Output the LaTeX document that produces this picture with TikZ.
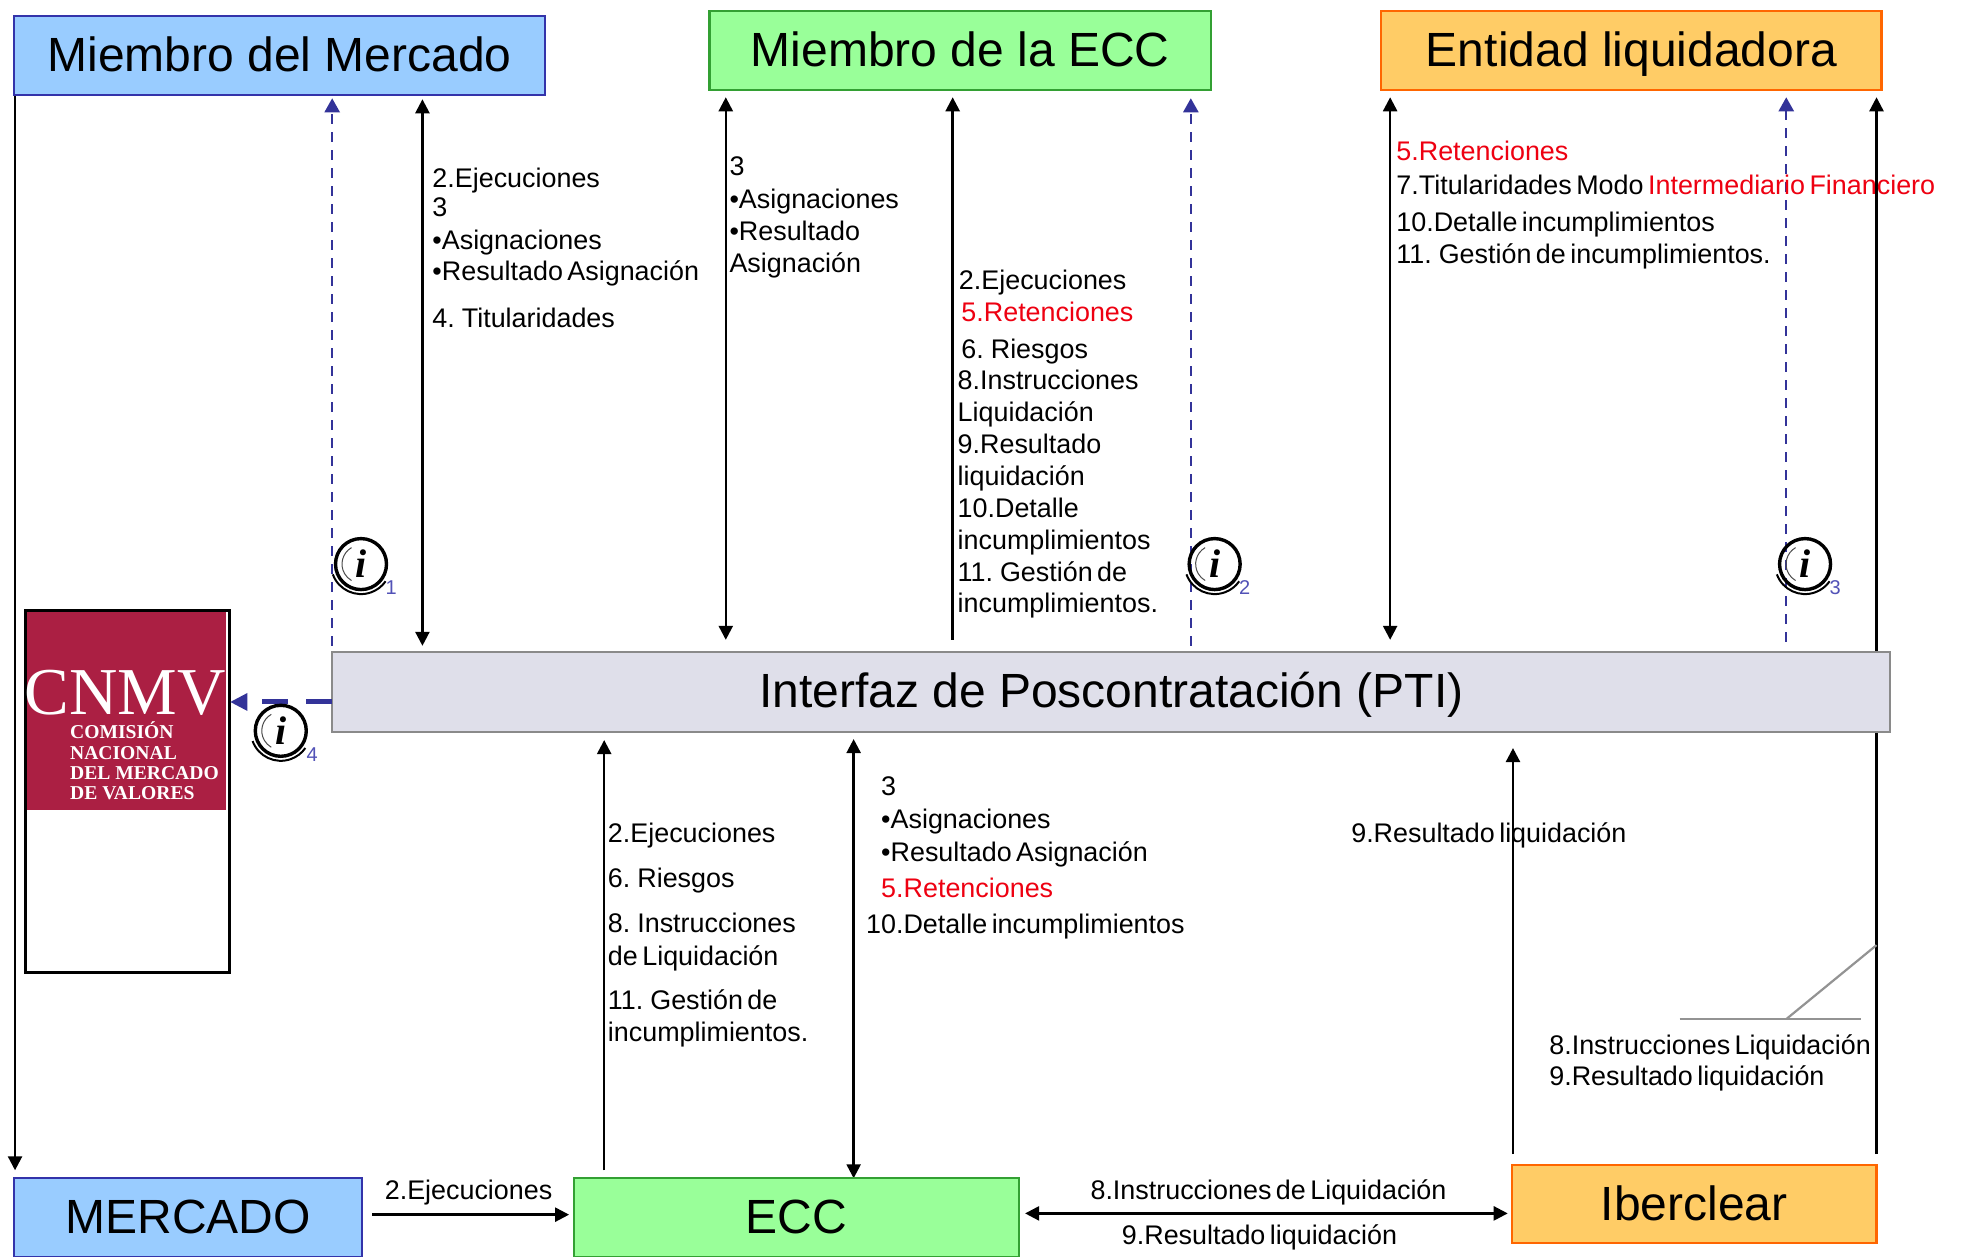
\documentclass[tikz,border=0pt]{standalone}
\usepackage{fontspec}
\setmainfont{Liberation Sans}
\newfontfamily\lblfont[WordSpace=0.6]{Liberation Sans}
\newfontfamily\logofont{Liberation Serif}
\usetikzlibrary{arrows.meta,backgrounds,calc}
\definecolor{mblue}{HTML}{99CCFF}
\definecolor{mgreen}{HTML}{99FF99}
\definecolor{morange}{HTML}{FFCC66}
\definecolor{bblue}{HTML}{3333AA}
\definecolor{bgreen}{HTML}{33A033}
\definecolor{borange}{HTML}{FF6600}
\definecolor{ptifill}{HTML}{DFDFEA}
\definecolor{ptiline}{HTML}{8A8A8A}
\definecolor{cnmvred}{HTML}{AB1F43}
\definecolor{txtred}{HTML}{EE0011}
\definecolor{dash}{HTML}{333399}
\tikzset{
  x=1.2535pt,y=-1.2535pt,
  box/.style={draw,line width=2.2pt,inner sep=0pt,outer sep=0pt,text=black,text height=32pt,text depth=0pt,font=\fontsize{48}{48}\selectfont},
  bluebox/.style={box,fill=mblue,draw=bblue},
  greenbox/.style={box,fill=mgreen,draw=bgreen},
  orangebox/.style={box,fill=morange,draw=borange},
  ptibox/.style={box,fill=ptifill,draw=ptiline},
  cnmvbox/.style={draw=black,line width=3pt,fill=white,inner sep=0pt,outer sep=0pt},
  logobox/.style={fill=cnmvred,inner sep=0pt,outer sep=0pt},
  lbl/.style={anchor=base west,inner sep=0pt,outer sep=0pt,font=\lblfont\fontsize{26.9}{27}\selectfont},
  redlbl/.style={lbl,text=txtred},
  logobig/.style={anchor=center,inner sep=0pt,text=white,font=\logofont\fontsize{67}{67}\selectfont},
  logosmall/.style={anchor=base west,inner sep=0pt,text=white,font=\logofont\bfseries\fontsize{19.6}{20}\selectfont},
  arrow/.style={line width=2.4pt,draw=black,-{Triangle[length=14pt,width=14pt]}},
  twoway/.style={line width=2.4pt,draw=black,{Triangle[length=14pt,width=14pt]}-{Triangle[length=14pt,width=14pt]}},
  bluedash/.style={line width=2.4pt,draw=dash,dash pattern=on 10pt off 8pt,-{Triangle[length=14pt,width=15pt,fill=dash]}},
  thickdash/.style={line width=5pt,draw=dash,dash pattern=on 26pt off 18pt},
  grayline/.style={line width=2.2pt,draw=gray!85},
  infoc/.style={circle,draw=black,line width=3.4pt,inner sep=0pt,outer sep=0pt,minimum size=51pt,text=black,font=\logofont\bfseries\itshape\fontsize{40}{40}\selectfont},
  infon/.style={anchor=center,inner sep=0pt,text=bblue!85,font=\fontsize{20}{20}\selectfont},
}
\newcommand{\boxn}[7]{%
  \pgfmathsetlengthmacro\bw{(#5-#3)*1.2535pt}%
  \pgfmathsetlengthmacro\bh{(#6-#4)*1.2535pt}%
  \node[#2,minimum width=\bw,minimum height=\bh] (#1) at ({(#3+#5)/2},{(#4+#6)/2}) {#7};}
\newcommand{\infoicon}[5]{%
  \node[infoc] (#1) at (#2,#3) {i};
  \draw[black,line width=2pt] ($(#1.center)+(200:30pt)$) arc[start angle=200,end angle=325,radius=30pt];
  \draw[black!70,line width=1pt] ($(#1.center)+(120:19pt)$) arc[start angle=120,end angle=240,radius=19pt];
  \node[infon] (#1n) at (#4) {#5};}
\begin{document}
\begin{tikzpicture}
\useasboundingbox (0,0) rectangle (1567.6,1002);
\clip (0,0) rectangle (1567.6,1002);
% boxes
\boxn{mm}{bluebox}{11}{13}{435}{76}{Miembro del Mercado}
\boxn{me}{greenbox}{566}{9}{966}{72}{Miembro de la ECC}
\boxn{el}{orangebox}{1102}{9}{1501}{72}{Entidad liquidadora}
\boxn{pti}{ptibox}{265}{520}{1508}{584}{Interfaz de Poscontratación (PTI)}
\boxn{mk}{bluebox}{11}{940}{289}{1003}{MERCADO}
\boxn{ecc}{greenbox}{458}{940}{813}{1003}{ECC}
\boxn{ib}{orangebox}{1206}{929.5}{1497}{991.5}{Iberclear}
\boxn{cn}{cnmvbox}{20}{487}{183}{776}{}
\boxn{logo}{logobox}{21.5}{488.5}{180.5}{646}{}
% logo text
\node[logobig] (lg0) at (100,553) {CNMV};
\node[logosmall] (lg1) at (55.8,589) {COMISIÓN};
\node[logosmall] (lg2) at (55.8,606) {NACIONAL};
\node[logosmall] (lg3) at (55.8,622) {DEL MERCADO};
\node[logosmall] (lg4) at (55.8,638) {DE VALORES};
% x positions
\coordinate (xa) at (265,0);
\coordinate (xb) at (337,0);
\coordinate (xc) at (579,0);
\coordinate (xd) at (760,0);
\coordinate (xe) at (950,0);
\coordinate (xf) at (1109,0);
\coordinate (xg) at (1425,0);
\coordinate (xh) at (1497,0);
\coordinate (xi) at (12,0);
\coordinate (xj) at (482,0);
\coordinate (xk) at (681,0);
\coordinate (xl) at (1207,0);
\coordinate (ya) at (0,560);
\coordinate (yb) at (0,969);
\coordinate (yc) at (0,968);
\coordinate (ga) at (1340,813);
\coordinate (gb) at (1485,813);
\coordinate (gc) at (1425,813);
\coordinate (gd) at (1497,754);
\begin{scope}[on background layer]
\fill[white] (0,0) rectangle (1567.6,1002);
\draw[bluedash,shorten <=6pt,shorten >=3pt] (pti.north -| xa) -- (mm.south -| xa);
\draw[twoway,shorten <=6pt,shorten >=4pt] (pti.north -| xb) -- (mm.south -| xb);
\draw[twoway,shorten <=12pt,shorten >=7pt] (pti.north -| xc) -- (me.south -| xc);
\draw[arrow,shorten <=12pt,shorten >=7pt] (pti.north -| xd) -- (me.south -| xd);
\draw[bluedash,shorten <=6pt,shorten >=8pt] (pti.north -| xe) -- (me.south -| xe);
\draw[twoway,shorten <=12pt,shorten >=7pt] (pti.north -| xf) -- (el.south -| xf);
\draw[bluedash,shorten <=10pt,shorten >=7pt] (pti.north -| xg) -- (el.south -| xg);
\draw[arrow,shorten <=11pt,shorten >=7pt] (ib.north -| xh) -- (el.south -| xh);
\draw[arrow,shorten >=8pt] (mm.south -| xi) -- (mk.north -| xi);
\draw[arrow,shorten <=8pt,shorten >=8pt] (ecc.north -| xj) -- (pti.south -| xj);
\draw[twoway,shorten <=0pt,shorten >=7pt] (ecc.north -| xk) -- (pti.south -| xk);
\draw[arrow,shorten <=11pt,shorten >=16pt] (ib.north -| xl) -- (pti.south -| xl);
\end{scope}
\draw[thickdash,shorten >=20pt] (pti.west |- ya) -- (cn.east |- ya);
\path[fill=dash] (cn.east |- ya) ++(1pt,0) -- ++(17pt,-9pt) -- ++(0,18pt) -- cycle;
\draw[arrow,shorten <=10pt,shorten >=5pt] (mk.east |- yb) -- (ecc.west |- yb);
\draw[twoway,shorten <=6pt,shorten >=4pt] (ecc.east |- yc) -- (ib.west |- yc);
\draw[grayline] (ga) -- (gb);
\draw[grayline] (gc) -- (gd);
% labels
\node[lbl] (a1) at (345,149.7) {2.Ejecuciones};
\node[lbl] (a2) at (345,173) {3};
\node[lbl] (a3) at (345,198.7) {•Asignaciones};
\node[lbl] (a4) at (345,224) {•Resultado Asignación};
\node[lbl] (a5) at (345,261) {4. Titularidades};
\node[lbl] (b1) at (582,140) {3};
\node[lbl] (b2) at (582,166) {•Asignaciones};
\node[lbl] (b3) at (582,191.7) {•Resultado};
\node[lbl] (b4) at (582,217) {Asignación};
\node[lbl] (c1) at (765,230.7) {2.Ejecuciones};
\node[redlbl] (c2) at (767,256.7) {5.Retenciones};
\node[lbl] (c3) at (767,286) {6. Riesgos};
\node[lbl] (c4) at (764,310.7) {8.Instrucciones};
\node[lbl] (c5) at (764,336) {Liquidación};
\node[lbl] (c6) at (764,361.7) {9.Resultado};
\node[lbl] (c7) at (764,387) {liquidación};
\node[lbl] (c8) at (764,412.7) {10.Detalle};
\node[lbl] (c9) at (764,438) {incumplimientos};
\node[lbl] (c10) at (764,463.7) {11. Gestión de};
\node[lbl] (c11) at (764,489) {incumplimientos.};
\node[redlbl] (d1) at (1114,128) {5.Retenciones};
\node[lbl] (d2) at (1114,155) {7.Titularidades Modo {\color{txtred}Intermediario Financiero}};
\node[lbl] (d3) at (1114,184.7) {10.Detalle incumplimientos};
\node[lbl] (d4) at (1114,210) {11. Gestión de incumplimientos.};
\node[lbl] (e1) at (485,672) {2.Ejecuciones};
\node[lbl] (e2) at (485,708) {6. Riesgos};
\node[lbl] (e3) at (485,744) {8. Instrucciones};
\node[lbl] (e4) at (485,770) {de Liquidación};
\node[lbl] (e5) at (485,805) {11. Gestión de};
\node[lbl] (e6) at (485,831) {incumplimientos.};
\node[lbl] (f1) at (703,635) {3};
\node[lbl] (f2) at (703,661) {•Asignaciones};
\node[lbl] (f3) at (703,687) {•Resultado Asignación};
\node[redlbl] (f4) at (703,716) {5.Retenciones};
\node[lbl] (f5) at (691,745) {10.Detalle incumplimientos};
\node[lbl] (g1) at (1078,672) {9.Resultado liquidación};
\node[lbl] (h1) at (1236,841) {8.Instrucciones Liquidación};
\node[lbl] (h2) at (1236,866) {9.Resultado liquidación};
\node[lbl] (k1) at (307,957) {2.Ejecuciones};
\node[lbl] (k2) at (870,957) {8.Instrucciones de Liquidación};
\node[lbl] (k3) at (895,993) {9.Resultado liquidación};
% info icons
\infoicon{i1}{288}{450}{312,469}{1}
\infoicon{i2}{969}{450}{993,469}{2}
\infoicon{i3}{1440}{450}{1464,469}{3}
\infoicon{i4}{224}{583}{249,602}{4}
\end{tikzpicture}
\end{document}
